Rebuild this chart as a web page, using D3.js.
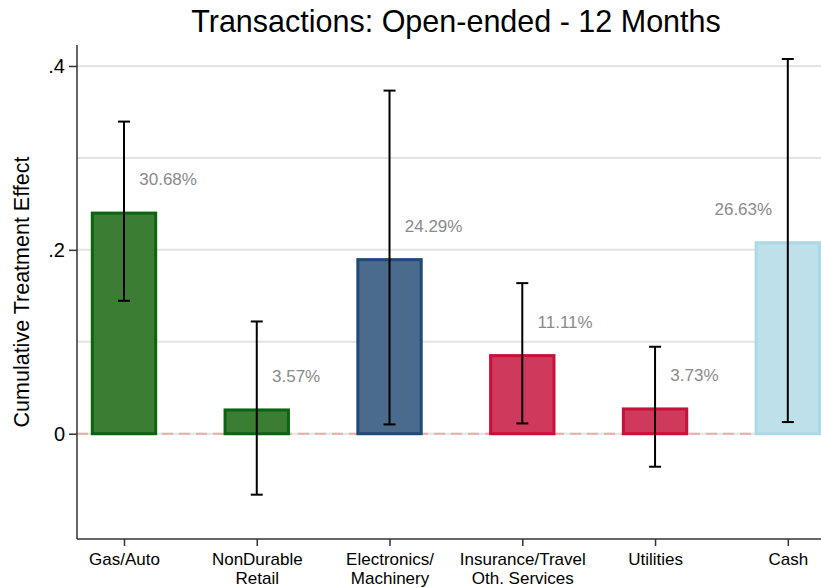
<!DOCTYPE html>
<html>
<head>
<meta charset="utf-8">
<script src="https://cdn.jsdelivr.net/npm/d3@7"></script>
<style>
  body { margin: 0; background: #fff; }
  svg { font-family: "Liberation Sans", Arial, sans-serif; }
</style>
</head>
<body>
<svg width="821" height="588"></svg>
<script>
// data
var categories = ["Gas/Auto", "NonDurable\nRetail", "Electronics/\nMachinery", "Insurance/Travel\nOth. Services", "Utilities", "Cash"];
var effects = [0.2416, 0.0275, 0.191, 0.0866, 0.0286, 0.2094];
var ciLow = [0.1446, -0.0663, 0.0101, 0.0112, -0.0359, 0.0127];
var ciHigh = [0.3395, 0.1221, 0.3732, 0.1638, 0.0946, 0.4076];
var pctLabels = ["30.68%", "3.57%", "24.29%", "11.11%", "3.73%", "26.63%"];
var fills = ["#3a7d33", "#3a7d33", "#4a6b8c", "#cf395c", "#cf395c", "#bde0ea"];
var strokes = ["#0b6411", "#0b6411", "#1d4a78", "#c8103a", "#c8103a", "#add8e6"];
var yTicks = [0, 0.2, 0.4];
var yGrid = [0.1, 0.2, 0.3, 0.4];

var svg = d3.select("svg");
var width = +svg.attr("width");
var height = +svg.attr("height");
var marge = {top: 45, bottom: 49, left: 77, right: 0};

var x = d3.scaleLinear()
  .domain([0.646, 6.25])
  .range([marge.left, width - marge.right]);
var y = d3.scaleLinear()
  .domain([-0.1145, 0.4228])
  .range([height - marge.bottom, marge.top]);

var barW = x(1.5) - x(1);

// gridlines
svg.append("g").selectAll("line")
  .data(yGrid.concat([0]))
  .enter().append("line")
  .attr("x1", marge.left).attr("x2", width - marge.right)
  .attr("y1", function(d){ return y(d); })
  .attr("y2", function(d){ return y(d); })
  .attr("stroke", "#e3e3e3")
  .attr("stroke-width", 2);

// zero reference line
svg.append("line")
  .attr("x1", marge.left).attr("x2", width - marge.right)
  .attr("y1", y(0)).attr("y2", y(0))
  .attr("stroke", "#eeaaaa")
  .attr("stroke-width", 2)
  .attr("stroke-dasharray", "11,6");

// bars
svg.append("g").selectAll("rect")
  .data(effects)
  .enter().append("rect")
  .attr("x", function(d, i){ return x(i + 1) - barW / 2 + 1.5; })
  .attr("y", function(d){ return y(d) + 1.5; })
  .attr("width", barW - 3)
  .attr("height", function(d){ return y(0) - y(d) - 1.5; })
  .attr("fill", function(d, i){ return fills[i]; })
  .attr("stroke", function(d, i){ return strokes[i]; })
  .attr("stroke-width", 3);

// error bars
var eb = svg.append("g").selectAll("g")
  .data(effects)
  .enter().append("g")
  .attr("stroke", "#000")
  .attr("stroke-width", 2);
eb.append("line")
  .attr("x1", function(d, i){ return x(i + 1); })
  .attr("x2", function(d, i){ return x(i + 1); })
  .attr("y1", function(d, i){ return y(ciLow[i]); })
  .attr("y2", function(d, i){ return y(ciHigh[i]); });
eb.append("line")
  .attr("x1", function(d, i){ return x(i + 1) - 6; })
  .attr("x2", function(d, i){ return x(i + 1) + 6; })
  .attr("y1", function(d, i){ return y(ciLow[i]); })
  .attr("y2", function(d, i){ return y(ciLow[i]); });
eb.append("line")
  .attr("x1", function(d, i){ return x(i + 1) - 6; })
  .attr("x2", function(d, i){ return x(i + 1) + 6; })
  .attr("y1", function(d, i){ return y(ciHigh[i]); })
  .attr("y2", function(d, i){ return y(ciHigh[i]); });

// percent labels
svg.append("g").selectAll("text")
  .data(effects)
  .enter().append("text")
  .attr("x", function(d, i){ return i == 5 ? x(i + 1 - 0.118) : x(i + 1 + 0.115); })
  .attr("y", function(d){ return y(d + 0.035); })
  .attr("dy", "0.35em")
  .attr("text-anchor", function(d, i){ return i == 5 ? "end" : "start"; })
  .attr("fill", "#8a8a8a")
  .attr("font-size", 17)
  .text(function(d, i){ return pctLabels[i]; });

// axes
var yAxis = d3.axisLeft(y)
  .tickValues(yTicks)
  .tickSize(8)
  .tickPadding(4)
  .tickFormat(function(d){ return d == 0 ? "0" : d3.format(".1f")(d).replace(/^0/, ""); });
var gy = svg.append("g")
  .attr("transform", "translate(" + marge.left + ",0)")
  .call(yAxis);
gy.select(".domain").attr("d", "M0," + marge.top + "V" + (height - marge.bottom)).attr("stroke", "#333").attr("stroke-width", 1.5);
gy.selectAll(".tick line").attr("stroke", "#333").attr("stroke-width", 1.5);
gy.selectAll("text").attr("font-size", 20).attr("fill", "#000").attr("font-family", "Liberation Sans, Arial, sans-serif");

var xAxis = d3.axisBottom(x)
  .tickValues(d3.range(1, categories.length + 1))
  .tickSize(7)
  .tickFormat("");
var gx = svg.append("g")
  .attr("transform", "translate(0," + (height - marge.bottom) + ")")
  .call(xAxis);
gx.select(".domain").attr("d", "M" + marge.left + ",0H" + (width - marge.right)).attr("stroke", "#333").attr("stroke-width", 1.5);
gx.selectAll(".tick line").attr("stroke", "#333").attr("stroke-width", 1.5);

gx.selectAll(".tick").append("text")
  .attr("fill", "#000")
  .attr("font-size", 17)
  .attr("text-anchor", "middle")
  .attr("font-family", "Liberation Sans, Arial, sans-serif")
  .each(function(d){
    var lines = categories[d - 1].split("\n");
    var t = d3.select(this);
    lines.forEach(function(l, k){
      t.append("tspan").attr("x", 0).attr("y", 26 + k * 18.5).text(l);
    });
  });

// y title
svg.append("text")
  .attr("transform", "translate(29," + ((marge.top + height - marge.bottom) / 2) + ") rotate(-90)")
  .attr("text-anchor", "middle")
  .attr("font-size", 21.5)
  .attr("fill", "#000")
  .text("Cumulative Treatment Effect");

// title
svg.append("text")
  .attr("x", 456)
  .attr("y", 32)
  .attr("text-anchor", "middle")
  .attr("font-size", 30.5)
  .attr("fill", "#000")
  .text("Transactions: Open-ended - 12 Months");
</script>
</body>
</html>
